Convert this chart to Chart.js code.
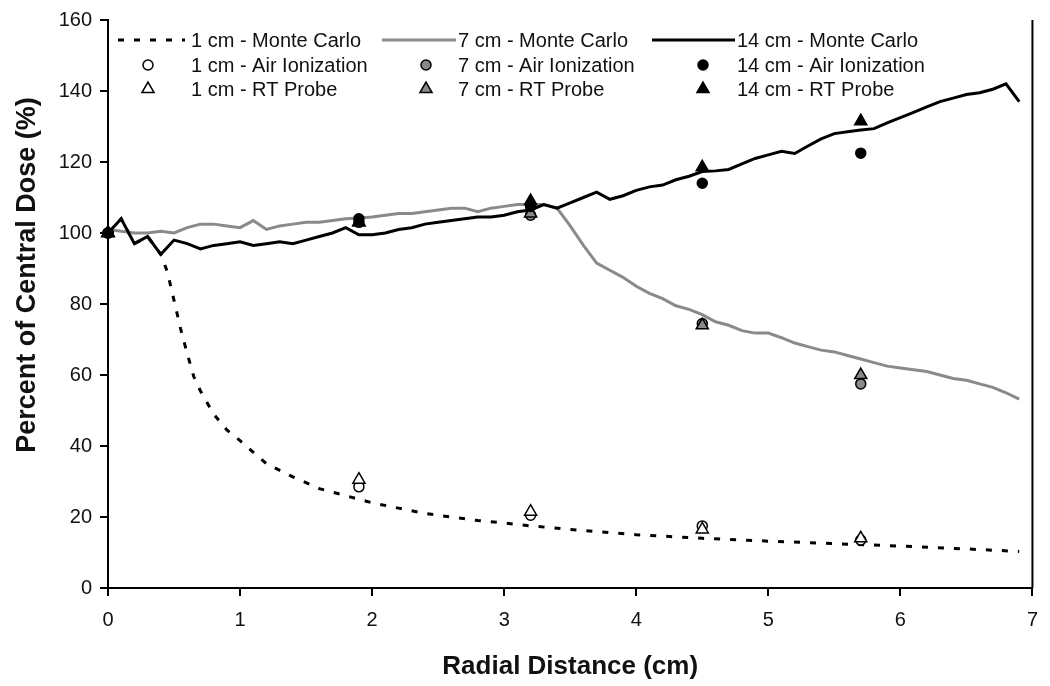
<!DOCTYPE html>
<html>
<head>
<meta charset="utf-8">
<script src="https://cdn.jsdelivr.net/npm/chart.js@4.4.0/dist/chart.umd.min.js"></script>
<style>
  html, body { margin: 0; padding: 0; background: #fff; }
  #wrap { width: 1050px; height: 686px; }
</style>
</head>
<body>
<div id="wrap"><canvas id="doseChart" width="1050" height="686"></canvas></div>
<script>
// ---- data ----
const xTicks = [0, 1, 2, 3, 4, 5, 6, 7];
const yTicks = [0, 20, 40, 60, 80, 100, 120, 140, 160];

// Monte Carlo curves (x in cm, y in % of central dose)
const mcX = [0, 0.1, 0.2, 0.3, 0.4, 0.5, 0.6, 0.7, 0.8, 0.9, 1.0, 1.1, 1.2, 1.3, 1.4, 1.5, 1.6, 1.7, 1.8, 1.9,
             2.0, 2.1, 2.2, 2.3, 2.4, 2.5, 2.6, 2.7, 2.8, 2.9, 3.0, 3.1, 3.2, 3.3, 3.4, 3.5, 3.6, 3.7, 3.8, 3.9,
             4.0, 4.1, 4.2, 4.3, 4.4, 4.5, 4.6, 4.7, 4.8, 4.9, 5.0, 5.1, 5.2, 5.3, 5.4, 5.5, 5.6, 5.7, 5.8, 5.9,
             6.0, 6.1, 6.2, 6.3, 6.4, 6.5, 6.6, 6.7, 6.8, 6.9];
const mc14 = [100, 104, 97, 99, 94, 98, 97, 95.5, 96.5, 97, 97.5, 96.5, 97, 97.5, 97, 98, 99, 100, 101.5, 99.5,
              99.5, 100, 101, 101.5, 102.5, 103, 103.5, 104, 104.5, 104.5, 105, 106, 106.5, 108, 107, 108.5, 110, 111.5, 109.5, 110.5,
              112, 113, 113.5, 115, 116, 117.3, 117.5, 117.9, 119.5, 121, 122, 123, 122.4, 124.5, 126.5, 128, 128.5, 129, 129.4, 131,
              132.5, 134, 135.5, 137, 138, 139, 139.5, 140.5, 142, 137];
const mc7 = [101, 100.5, 100, 100, 100.5, 100, 101.5, 102.5, 102.5, 102, 101.5, 103.5, 101, 102, 102.5, 103, 103, 103.5, 104, 104.2,
             104.5, 105, 105.5, 105.5, 106, 106.5, 107, 107, 106, 107, 107.5, 108, 108, 108, 107, 102, 96.5, 91.5, 89.5, 87.5,
             85, 83, 81.5, 79.5, 78.5, 77, 75, 74, 72.5, 71.8, 71.8, 70.5, 69, 68, 67, 66.5, 65.5, 64.5, 63.5, 62.5,
             62, 61.5, 61, 60, 59, 58.5, 57.5, 56.5, 55, 53.2];
const mc1X = [0, 0.1, 0.2, 0.3, 0.4, 0.45, 0.5, 0.55, 0.6, 0.65, 0.7, 0.8, 0.9, 1.0, 1.2, 1.4, 1.6, 1.8, 2.0,
              2.2, 2.4, 2.6, 2.8, 3.0, 3.2, 3.5, 4.0, 4.5, 5.0, 5.5, 6.0, 6.5, 6.9];
const mc1 = [100, 104, 97, 99, 94, 89, 81, 73, 66, 59.5, 55.5, 49, 44.5, 41.5, 35, 31.3, 28, 26, 24,
             22.5, 21, 20, 19, 18.3, 17.5, 16.5, 15, 14, 13.2, 12.5, 11.8, 11, 10.3];

// measurements
const measX = [0, 1.9, 3.2, 4.5, 5.7];
const air1 = [100, 28.5, 20.5, 17.5, 13.5];
const air7 = [100, 103, 105, 74.5, 57.5];
const air14 = [100, 104, 107.5, 114, 122.5];
const rt1 = [100, 30.5, 21.5, 16.5, 14];
const rt7 = [100, 103, 105.5, 74, 60];
const rt14 = [100, 103, 109, 118.5, 131.5];

const legendLabels = [
  ['1 cm - Monte Carlo', '7 cm - Monte Carlo', '14 cm - Monte Carlo'],
  ['1 cm - Air Ionization', '7 cm - Air Ionization', '14 cm - Air Ionization'],
  ['1 cm - RT Probe', '7 cm - RT Probe', '14 cm - RT Probe']
];
const yTitle = 'Percent of Central Dose (%)';
const xTitle = 'Radial Distance (cm)';

// ---- helpers ----
const FONT = '"Liberation Sans", Arial, sans-serif';
const INK = '#111';
const GRAY = '#8a8a8a';
const pts = (xs, ys) => xs.map((x, i) => ({ x: x, y: ys[i] }));

// lower "order" is drawn later (on top)
const lineSet = (label, xs, ys, color, dash, order) => ({
  label, data: pts(xs, ys), showLine: true, borderColor: color, borderWidth: 3,
  borderDash: dash, pointRadius: 0, tension: 0, order, fill: false
});
const markSet = (label, ys, style, fillColor, radius, order) => ({
  label, data: pts(measX, ys), showLine: false, pointStyle: style, pointRadius: radius,
  pointBackgroundColor: fillColor, pointBorderColor: '#000', pointBorderWidth: 1.5, order, clip: false
});

// ---- plugin: right frame line, y title, custom 3x3 legend ----
const frameAndLegend = {
  id: 'frameAndLegend',
  afterDraw(chart) {
    const { ctx, chartArea } = chart;
    ctx.save();
    ctx.strokeStyle = '#000';
    ctx.lineWidth = 2;
    ctx.beginPath();
    ctx.moveTo(chartArea.right, chartArea.top);
    ctx.lineTo(chartArea.right, chartArea.bottom);
    ctx.stroke();

    // y axis title (sits a bit above the plot centre in the original)
    ctx.save();
    ctx.translate(28, 275);
    ctx.rotate(-Math.PI / 2);
    ctx.font = 'bold 27px ' + FONT;
    ctx.fillStyle = INK;
    ctx.textAlign = 'center';
    ctx.textBaseline = 'middle';
    ctx.fillText(yTitle, 0, 0);
    ctx.restore();

    const rows = [40, 65, 89];
    const lineSpans = [[118, 185], [382, 456], [652, 735]];
    const markerX = [148, 426, 703];
    const textX = [191, 458, 737];
    const ds = chart.data.datasets;
    ctx.font = '20px ' + FONT;
    ctx.textBaseline = 'middle';
    for (let c = 0; c < 3; c++) {
      // Monte Carlo line sample
      const l = ds[c];
      ctx.strokeStyle = l.borderColor;
      ctx.lineWidth = l.borderWidth;
      ctx.setLineDash(l.borderDash || []);
      ctx.beginPath();
      ctx.moveTo(lineSpans[c][0], rows[0]);
      ctx.lineTo(lineSpans[c][1], rows[0]);
      ctx.stroke();
      ctx.setLineDash([]);
      // marker samples
      [ds[3 + c], ds[6 + c]].forEach((m, r) => {
        ctx.fillStyle = m.pointBackgroundColor;
        ctx.strokeStyle = m.pointBorderColor;
        ctx.lineWidth = m.pointBorderWidth;
        Chart.helpers.drawPoint(ctx, { pointStyle: m.pointStyle, radius: m.pointRadius, borderWidth: m.pointBorderWidth, rotation: 0 }, markerX[c], rows[r + 1]);
      });
      ctx.fillStyle = INK;
      for (let r = 0; r < 3; r++) ctx.fillText(legendLabels[r][c], textX[c], rows[r] + 1);
    }
    ctx.restore();
  }
};

// ---- chart ----
new Chart(document.getElementById('doseChart'), {
  type: 'scatter',
  data: {
    datasets: [
      lineSet('1 cm - Monte Carlo', mc1X, mc1, '#000', [6, 10], 9),
      lineSet('7 cm - Monte Carlo', mcX, mc7, GRAY, [], 8),
      lineSet('14 cm - Monte Carlo', mcX, mc14, '#000', [], 7),
      markSet('1 cm - Air Ionization', air1, 'circle', '#fff', 5, 6),
      markSet('7 cm - Air Ionization', air7, 'circle', GRAY, 5, 4),
      markSet('14 cm - Air Ionization', air14, 'circle', '#000', 5, 2),
      markSet('1 cm - RT Probe', rt1, 'triangle', '#fff', 7, 5),
      markSet('7 cm - RT Probe', rt7, 'triangle', GRAY, 7, 3),
      markSet('14 cm - RT Probe', rt14, 'triangle', '#000', 7, 1)
    ]
  },
  options: {
    responsive: false,
    animation: false,
    layout: { padding: { top: 18, right: 9, left: 0, bottom: 0 } },
    plugins: { legend: { display: false }, tooltip: { enabled: false } },
    scales: {
      x: {
        type: 'linear', min: 0, max: 7,
        afterBuildTicks: s => { s.ticks = xTicks.map(v => ({ value: v })); },
        afterFit: s => { s.height = 98; },
        ticks: { color: INK, font: { family: FONT, size: 20 }, padding: 12 },
        grid: { drawOnChartArea: false, drawTicks: true, tickLength: 8, color: '#000', lineWidth: 2 },
        border: { display: true, color: '#000', width: 2 },
        title: { display: true, text: xTitle, color: INK, font: { family: FONT, size: 26, weight: 'bold' }, padding: { top: 8 } }
      },
      y: {
        type: 'linear', min: 0, max: 160,
        afterBuildTicks: s => { s.ticks = yTicks.map(v => ({ value: v })); },
        afterFit: s => { s.width = 108; },
        ticks: { color: INK, font: { family: FONT, size: 20 }, padding: 8 },
        grid: { drawOnChartArea: false, drawTicks: true, tickLength: 8, color: '#000', lineWidth: 2 },
        border: { display: true, color: '#000', width: 2 },
        title: { display: false }
      }
    }
  },
  plugins: [frameAndLegend]
});
</script>
</body>
</html>
